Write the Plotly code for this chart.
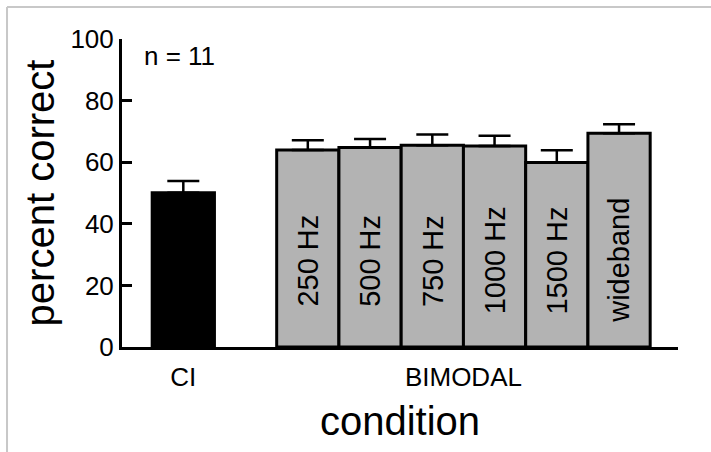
import plotly.graph_objects as go

# ---- data ----
ci_label = "CI"
ci_mean = [50.1]
ci_err = [3.8]

group_label = "BIMODAL"
bimodal_labels = ["250 Hz", "500 Hz", "750 Hz", "1000 Hz", "1500 Hz", "wideband"]
bimodal_mean = [64.0, 64.8, 65.5, 65.3, 59.9, 69.4]
bimodal_err = [3.1, 2.7, 3.5, 3.3, 4.0, 2.9]

y_ticks = [0, 20, 40, 60, 80, 100]
n_text = "n = 11"

# ---- layout helpers (derived positions) ----
ci_x = [0]
bimodal_x = [i + 2 for i in range(len(bimodal_labels))]
group_center = sum(bimodal_x) / len(bimodal_x)

FONT = "Liberation Sans, Arial, Helvetica, sans-serif"

fig = go.Figure()
fig.add_trace(go.Bar(
    x=ci_x, y=ci_mean, width=1,
    marker=dict(color="black", line=dict(color="black", width=3)),
    error_y=dict(type="data", array=ci_err, arrayminus=[0] * len(ci_err), symmetric=False,
                 color="black", thickness=2.5, width=16),
    showlegend=False,
))
fig.add_trace(go.Bar(
    x=bimodal_x, y=bimodal_mean, width=1,
    marker=dict(color="#b3b3b3", line=dict(color="black", width=3)),
    error_y=dict(type="data", array=bimodal_err, arrayminus=[0] * len(bimodal_err), symmetric=False,
                 color="black", thickness=2.5, width=16),
    showlegend=False,
))

annotations = []
for xv, lab in zip(bimodal_x, bimodal_labels):
    annotations.append(dict(x=xv, y=28, xref="x", yref="y", text=lab, textangle=-90,
                            showarrow=False, font=dict(family=FONT, size=29, color="black"),
                            xanchor="center", yanchor="middle"))
annotations.append(dict(x=-0.664, y=94.5, xref="x", yref="y", text=n_text, showarrow=False,
                        font=dict(family=FONT, size=26, color="black"),
                        xanchor="left", yanchor="middle"))

fig.update_layout(
    width=711, height=452,
    margin=dict(l=122, r=33, t=39, b=105, autoexpand=False),
    plot_bgcolor="white", paper_bgcolor="white",
    barmode="overlay",
    font=dict(family=FONT, color="black"),
    annotations=annotations,
    shapes=[
        dict(type="line", xref="paper", yref="paper", x0=-0.2068, x1=1.2, y0=1.1039, y1=1.1039,
             line=dict(color="#c8c8c8", width=2)),
        dict(type="line", xref="paper", yref="paper", x0=-0.2068, x1=-0.2068, y0=1.1039, y1=-0.5,
             line=dict(color="#c8c8c8", width=2)),
    ],
    xaxis=dict(
        range=[-0.985, 7.947],
        tickvals=ci_x + [group_center], ticktext=[ci_label, group_label],
        ticks="", showline=True, linewidth=3, linecolor="black",
        showgrid=False, zeroline=False, ticklabelstandoff=5,
        tickfont=dict(family=FONT, size=26, color="black"),
        title=dict(text="condition", font=dict(family=FONT, size=40, color="black"), standoff=16),
    ),
    yaxis=dict(
        range=[0, 100], tickvals=y_ticks,
        ticks="inside", ticklen=10, tickwidth=3, tickcolor="black",
        showline=True, linewidth=3, linecolor="black",
        showgrid=False, zeroline=False,
        tickfont=dict(family=FONT, size=26, color="black"),
        title=dict(text="percent correct", font=dict(family=FONT, size=40, color="black"), standoff=4),
    ),
)

fig.write_html("out.html")
